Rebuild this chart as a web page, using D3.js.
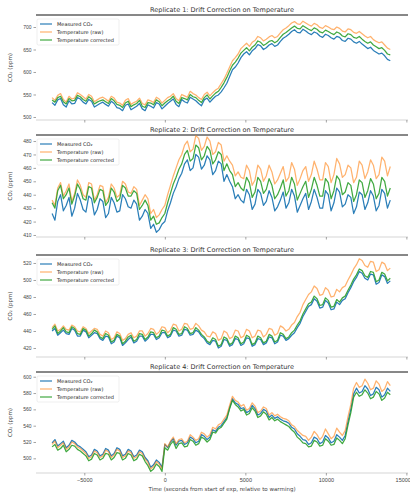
<!DOCTYPE html>
<html>
<head>
<meta charset="utf-8">
<script src="https://cdn.jsdelivr.net/npm/d3@7"></script>
<style>
  body { margin: 0; background: #fff; }
  svg { display: block; font-family: "DejaVu Sans", sans-serif; }
</style>
</head>
<body>
<svg id="chart" width="410" height="493"></svg>
<script>
// Sample times (s, relative to the start of warming)
const times = [
  -7000,-6825,-6650,-6475,-6300,-6125,-5950,-5775,-5600,-5425,
  -5250,-5075,-4900,-4725,-4550,-4375,-4200,-4025,-3850,-3675,
  -3500,-3325,-3150,-2975,-2800,-2625,-2450,-2275,-2100,-1925,
  -1750,-1575,-1400,-1225,-1050,-875,-700,-525,-350,-175,
  0,175,350,525,700,875,1050,1225,1400,1575,
  1750,1925,2100,2275,2450,2625,2800,2975,3150,3325,
  3500,3675,3850,4025,4200,4375,4550,4725,4900,5075,
  5250,5425,5600,5775,5950,6125,6300,6475,6650,6825,
  7000,7175,7350,7525,7700,7875,8050,8225,8400,8575,
  8750,8925,9100,9275,9450,9625,9800,9975,10150,10325,
  10500,10675,10850,11025,11200,11375,11550,11725,11900,12075,
  12250,12425,12600,12775,12950,13125,13300,13475,13650,13825,
  14000];

const xTicks = [-5000, 0, 5000, 10000, 15000];
const xLabel = "Time (seconds from start of exp, relative to warming)";
const yLabel = "CO\u2082 (ppm)";
const seriesNames = ["Measured CO\u2082", "Temperature (raw)", "Temperature corrected"];
const titles = [
  "Replicate 1: Drift Correction on Temperature",
  "Replicate 2: Drift Correction on Temperature",
  "Replicate 3: Drift Correction on Temperature",
  "Replicate 4: Drift Correction on Temperature"
];

// Replicate 1 (ppm)
const rep1Measured = [532,526,538,541,527,522,536,529,530,543,540,533,529,539,535,522,526,530,533,528,
  524,535,530,521,519,514,526,529,516,520,524,530,518,514,527,524,520,532,529,518,
  524,530,535,540,528,523,539,534,531,544,540,536,530,525,538,542,533,540,546,549,
  556,565,575,590,605,611,620,632,640,645,638,647,652,661,658,650,654,660,663,657,
  660,668,675,679,684,690,694,688,687,695,691,686,683,689,686,680,677,684,681,676,
  673,679,677,670,668,675,673,667,664,668,662,657,652,655,648,644,640,642,636,628,625];
const rep1TempRaw = [543,537,548,552,539,533,546,540,542,554,550,545,540,550,546,534,538,542,544,540,
  535,546,542,533,531,526,537,541,528,532,535,542,530,527,538,536,532,544,540,531,
  537,543,546,552,541,536,550,547,544,557,552,549,543,539,550,555,547,554,560,564,
  574,584,597,611,625,632,640,652,658,664,657,666,670,679,676,669,673,678,681,676,
  679,687,694,698,703,709,712,707,706,713,709,705,702,708,705,699,697,703,700,696,
  694,700,697,691,689,696,694,688,686,690,685,680,676,679,672,668,665,667,660,653,650];
const rep1Corrected = [538,533,543,546,534,529,541,536,537,548,545,539,535,545,540,529,533,536,538,534,
  530,541,536,528,526,521,531,535,523,527,530,537,524,521,532,531,527,538,534,525,
  531,536,540,546,535,530,543,541,538,550,545,543,537,532,543,549,540,547,553,557,
  566,576,588,602,615,622,631,642,648,654,647,655,660,669,666,659,663,668,670,665,
  669,677,684,688,693,698,702,697,696,703,699,695,692,698,695,689,687,693,690,686,
  683,689,686,680,678,685,683,677,675,679,673,668,664,667,660,656,652,654,648,640,638];
const rep1Ticks = [500, 550, 600, 650, 700];

// Replicate 2 (ppm)
const rep2Measured = [426,421,435,440,428,432,438,424,430,441,436,429,427,439,437,425,429,437,435,423,
  426,438,434,427,428,440,437,431,430,436,433,421,424,429,426,415,418,412,414,418,
  420,428,434,441,446,452,456,463,466,458,460,470,468,459,462,469,466,455,458,465,
  463,450,455,450,446,437,440,436,434,444,440,429,433,444,441,432,435,443,438,428,
  431,436,442,430,434,444,439,427,432,437,441,429,435,444,438,430,430,443,440,428,
  434,445,442,431,433,440,438,426,431,442,440,429,434,443,439,428,432,444,441,430,436];
const rep2TempRaw = [436,432,445,449,439,443,448,435,441,451,447,440,438,449,448,436,440,447,446,434,
  438,448,445,438,440,450,448,442,441,446,444,432,436,440,437,426,429,423,425,429,
  432,440,447,454,460,466,470,477,480,472,474,484,482,473,476,483,480,470,472,479,
  477,465,469,465,462,454,457,453,452,462,458,447,451,462,459,450,454,462,457,448,
  451,456,461,450,453,464,459,447,452,458,461,450,455,465,459,451,451,464,461,449,
  455,467,463,453,455,462,460,449,453,465,462,452,457,466,462,452,455,468,465,454,461];
const rep2Corrected = [434,430,443,447,437,440,445,433,439,448,444,437,436,446,445,434,438,444,443,432,
  435,445,442,435,437,447,445,439,439,443,441,429,432,436,432,421,424,418,419,423,
  426,434,441,448,453,459,463,470,473,465,467,477,475,466,469,476,473,463,466,472,
  470,458,463,458,455,446,449,445,443,453,449,438,442,453,450,441,444,452,447,437,
  440,445,451,439,443,453,448,436,441,446,450,438,444,453,447,439,439,452,449,437,
  443,454,451,440,442,449,447,435,440,451,449,438,443,452,448,437,441,453,450,439,445];
const rep2Ticks = [410, 420, 430, 440, 450, 460, 470, 480];

// Replicate 3 (ppm)
const rep3Measured = [440,443,435,438,441,437,436,443,441,434,434,441,439,432,435,438,437,431,429,434,
  433,425,427,434,432,423,426,430,433,426,428,434,434,428,431,436,436,430,432,438,
  438,432,434,441,440,434,435,442,441,435,436,441,439,434,431,426,424,429,428,420,
  422,430,429,422,424,431,430,423,425,432,431,422,424,431,430,424,426,433,432,425,
  427,435,434,429,431,435,438,444,449,457,463,469,471,478,475,467,468,476,473,465,
  466,474,471,476,478,485,491,498,503,510,508,502,500,507,506,495,497,506,504,496,499];
const rep3TempRaw = [444,448,440,442,446,442,441,447,445,440,439,445,443,437,440,443,442,436,434,440,
  438,430,432,439,437,429,431,436,438,432,434,440,440,434,437,443,442,436,439,445,
  444,438,441,448,447,440,442,449,448,442,443,449,446,441,439,434,433,439,437,429,
  431,440,438,431,433,441,440,432,434,442,440,432,434,441,440,433,436,443,442,435,
  437,446,444,440,442,447,450,457,462,471,477,483,486,493,490,482,483,491,488,480,
  481,489,486,491,493,500,506,513,518,525,523,517,515,522,521,510,512,521,519,511,514];
const rep3Corrected = [442,446,437,440,444,439,438,445,443,437,436,443,441,434,437,441,439,433,431,437,
  435,427,429,436,434,425,428,433,435,428,430,437,436,430,433,439,438,432,434,441,
  440,434,436,444,442,436,437,445,443,437,438,444,441,436,433,428,426,432,430,422,
  424,433,431,424,426,434,432,425,427,435,433,424,426,434,432,426,428,436,434,427,
  429,438,436,431,433,438,441,447,452,460,466,472,474,481,478,470,471,479,476,468,
  469,477,474,479,481,488,494,501,506,513,511,505,503,510,509,498,500,509,507,499,502];
const rep3Ticks = [420, 440, 460, 480, 500, 520];

// Replicate 4 (ppm)
const rep4Measured = [519,523,515,518,521,513,516,522,520,516,514,511,508,502,504,511,509,503,505,512,
  510,503,506,513,511,503,505,511,509,502,504,510,508,501,497,489,492,498,495,489,
  517,513,520,524,516,521,522,517,519,526,524,519,521,529,527,523,526,535,533,538,
  540,545,550,562,573,568,566,561,562,556,558,565,561,553,555,560,558,550,553,549,
  551,548,546,545,543,538,536,530,527,523,522,517,519,526,524,518,520,528,525,519,
  521,529,526,522,528,545,560,579,586,580,582,589,585,577,579,587,584,575,578,586,582];
const rep4TempRaw = [517,521,513,516,519,511,514,520,518,514,512,509,506,500,502,509,507,501,503,510,
  508,501,504,511,509,501,503,509,507,500,502,508,506,499,495,487,490,496,493,487,
  518,514,521,526,518,523,524,519,521,529,526,522,524,532,530,526,529,538,536,541,
  543,548,553,565,576,571,569,564,566,559,561,568,564,556,558,563,561,553,556,552,
  554,551,549,548,546,541,539,534,531,528,527,522,526,533,529,523,527,536,530,524,
  527,537,532,528,534,551,566,586,593,587,589,597,592,584,586,595,591,582,585,594,589];
const rep4Corrected = [514,517,510,512,516,508,511,516,515,511,509,506,503,497,499,506,504,498,500,506,
  505,498,501,507,506,498,500,506,504,497,499,505,503,496,491,484,487,493,490,484,
  513,510,517,521,512,518,519,514,515,523,521,516,518,526,524,520,523,532,531,536,
  538,543,548,561,571,566,563,558,560,553,555,562,558,550,552,557,554,547,550,546,
  548,545,543,541,539,535,532,526,523,519,518,514,515,522,520,515,516,524,521,516,
  517,525,522,518,524,541,556,575,581,576,578,584,580,573,575,582,579,571,574,581,578];
const rep4Ticks = [500, 520, 540, 560, 580, 600];

const colors = ["#1f77b4", "#ff7f0e", "#2ca02c"];
const opac = [0.95, 0.6, 0.9];

const panels = [
  { title: titles[0], series: [rep1Measured, rep1TempRaw, rep1Corrected], ticks: rep1Ticks, top: 15,  bottom: 120, domain: [493.3, 726.7] },
  { title: titles[1], series: [rep2Measured, rep2TempRaw, rep2Corrected], ticks: rep2Ticks, top: 135, bottom: 237, domain: [408.5, 484.5] },
  { title: titles[2], series: [rep3Measured, rep3TempRaw, rep3Corrected], ticks: rep3Ticks, top: 255, bottom: 357, domain: [409.4, 529.4] },
  { title: titles[3], series: [rep4Measured, rep4TempRaw, rep4Corrected], ticks: rep4Ticks, top: 372, bottom: 473, domain: [482, 605.8] }
];

const svg = d3.select("#chart");
const left = 36, right = 408;
const x = d3.scaleLinear().domain([-8000, 15100]).range([left, right]);

panels.forEach((p, pi) => {
  const y = d3.scaleLinear().domain(p.domain).range([p.bottom, p.top]);
  const g = svg.append("g");
  const isLast = pi === panels.length - 1;

  // frame
  g.append("line").attr("x1", left).attr("x2", right).attr("y1", p.top).attr("y2", p.top)
    .attr("stroke", "#111").attr("stroke-width", 1);
  g.append("line").attr("x1", left).attr("x2", right).attr("y1", p.bottom).attr("y2", p.bottom)
    .attr("stroke", "#aaa").attr("stroke-width", 0.5);

  // title
  g.append("text").attr("x", (left + right) / 2).attr("y", p.top - 3)
    .attr("text-anchor", "middle").attr("font-size", 6.5).attr("fill", "#333").text(p.title);

  // y axis
  const ya = g.append("g").attr("transform", `translate(${left},0)`)
    .call(d3.axisLeft(y).tickValues(p.ticks).tickSize(2.5).tickPadding(2).tickFormat(d3.format("d")));
  ya.select(".domain").remove();
  ya.selectAll("text").attr("font-size", 5).attr("fill", "#444");
  ya.selectAll("line").attr("stroke", "#666").attr("stroke-width", 0.6);

  g.append("text")
    .attr("transform", `translate(12,${(p.top + p.bottom) / 2}) rotate(-90)`)
    .attr("text-anchor", "middle").attr("font-size", 5.5).attr("fill", "#444").text(yLabel);

  // x axis (labels only on the bottom panel)
  const xa = g.append("g").attr("transform", `translate(0,${p.bottom})`)
    .call(d3.axisBottom(x).tickValues(xTicks).tickSize(2.5).tickPadding(3)
      .tickFormat(isLast ? d3.format("d") : () => ""));
  xa.select(".domain").remove();
  xa.selectAll("text").attr("font-size", 5.5).attr("fill", "#444");
  xa.selectAll("line").attr("stroke", "#666").attr("stroke-width", 0.6);
  if (isLast) {
    xa.selectAll(".tick").filter(d => d === 15000).select("text")
      .attr("text-anchor", "end").attr("dx", 4);
  }

  // series
  const line = d3.line().x((d, i) => x(times[i])).y(d => y(d));
  p.series.forEach((s, si) => {
    g.append("path").datum(s).attr("d", line).attr("fill", "none")
      .attr("stroke", colors[si]).attr("stroke-width", 1.25).attr("stroke-opacity", opac[si])
      .attr("stroke-linejoin", "round");
  });

  // legend
  const lg = g.append("g").attr("transform", `translate(${left + 1},${p.top + 4})`);
  lg.append("rect").attr("width", 82).attr("height", 26).attr("rx", 1.5)
    .attr("fill", "#fff").attr("fill-opacity", 0.8).attr("stroke", "#ddd").attr("stroke-width", 0.5);
  seriesNames.forEach((name, si) => {
    const ry = 5 + si * 8;
    lg.append("line").attr("x1", 3).attr("x2", 15).attr("y1", ry).attr("y2", ry)
      .attr("stroke", colors[si]).attr("stroke-width", 1.2).attr("stroke-opacity", opac[si]);
    lg.append("text").attr("x", 20).attr("y", ry + 1.8).attr("font-size", 5).attr("fill", "#222").text(name);
  });
});

// shared x label
svg.append("text").attr("x", (left + right) / 2).attr("y", 491)
  .attr("text-anchor", "middle").attr("font-size", 5.5).attr("fill", "#444").text(xLabel);
</script>
</body>
</html>
